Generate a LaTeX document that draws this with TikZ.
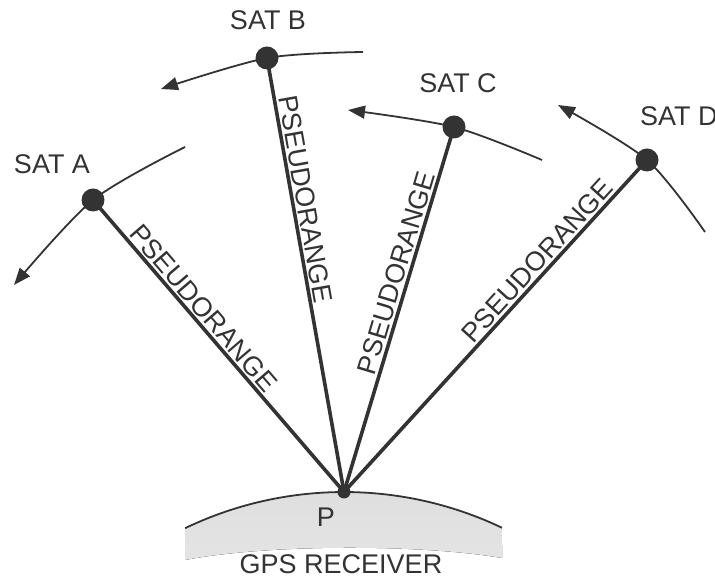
\documentclass[tikz,border=0pt]{standalone}
\usepackage{fontspec}
\setmainfont{Liberation Sans}
\usepackage{tikz}
\usetikzlibrary{arrows.meta, calc}
\definecolor{ink}{gray}{0.2}

\begin{document}
\begin{tikzpicture}[x=1pt,y=1pt,>={Triangle[length=17pt,width=13pt]},
	lbl/.style={font=\fontsize{27}{30}\selectfont, text=ink},
	rangeline/.style={ink, line width=3.6pt},
	orbit/.style={ink, line width=1.8pt, ->},
	sat/.style={circle, fill=ink, minimum size=23pt, inner sep=0pt}]
		\useasboundingbox (0,0) rectangle (715,578);
		% Receiver
		\coordinate (ctr) at (344,-281);
		\fill[top color=gray!26, bottom color=gray!4] (ctr) ++(115.65:367) arc[start angle=115.65, end angle=64.5, radius=367] -- (502,20) .. controls (420,34) and (268,34) .. (185,18) -- cycle;
		\draw[ink, line width=1.8pt] (ctr) ++(115.65:367) arc[start angle=115.65, end angle=64.5, radius=367];
		\node[circle, fill=ink, minimum size=13pt, inner sep=0pt] (P) at (344,86) {};
		
		% pseudoranges
		\foreach \s/\x/\y/\t in {A/93/378/0.6, B/267/520/0.67, C/454/451/0.59, D/647/418/0.67}{
			\coordinate (\s) at (\x,\y);
			\draw[rangeline] (P.center) -- node[lbl, sloped, above, pos=\t, inner sep=2pt] (r\s) {PSEUDORANGE} (\s);
		}
		
		% orbits
		\draw[orbit] plot[smooth] coordinates {(185,431) (A) (14,293)};
		\draw[orbit] plot[smooth] coordinates {(363,526) (B) (161,489)};
		\draw[orbit] plot[smooth] coordinates {(542,418) (C) (348,468)};
		\draw[orbit] plot[smooth] coordinates {(705,346) (D) (558,473)};
		
		% satellites
		\foreach \s in {A,B,C,D}{
			\node[sat] (s\s) at (\s) {};
		}
		
		% Beschriftungen
		\node[lbl] (lA) at (52,414) {SAT A};
		\node[lbl] (lB) at (268,558) {SAT B};
		\node[lbl] (lC) at (458,495) {SAT C};
		\node[lbl, anchor=west, inner sep=0pt] (lD) at (640,462) {SAT D};
		\node[lbl] (lP) at (326,61) {P};
		\node[lbl] (lR) at (341,14) {GPS RECEIVER};
	\end{tikzpicture}
\end{document}
